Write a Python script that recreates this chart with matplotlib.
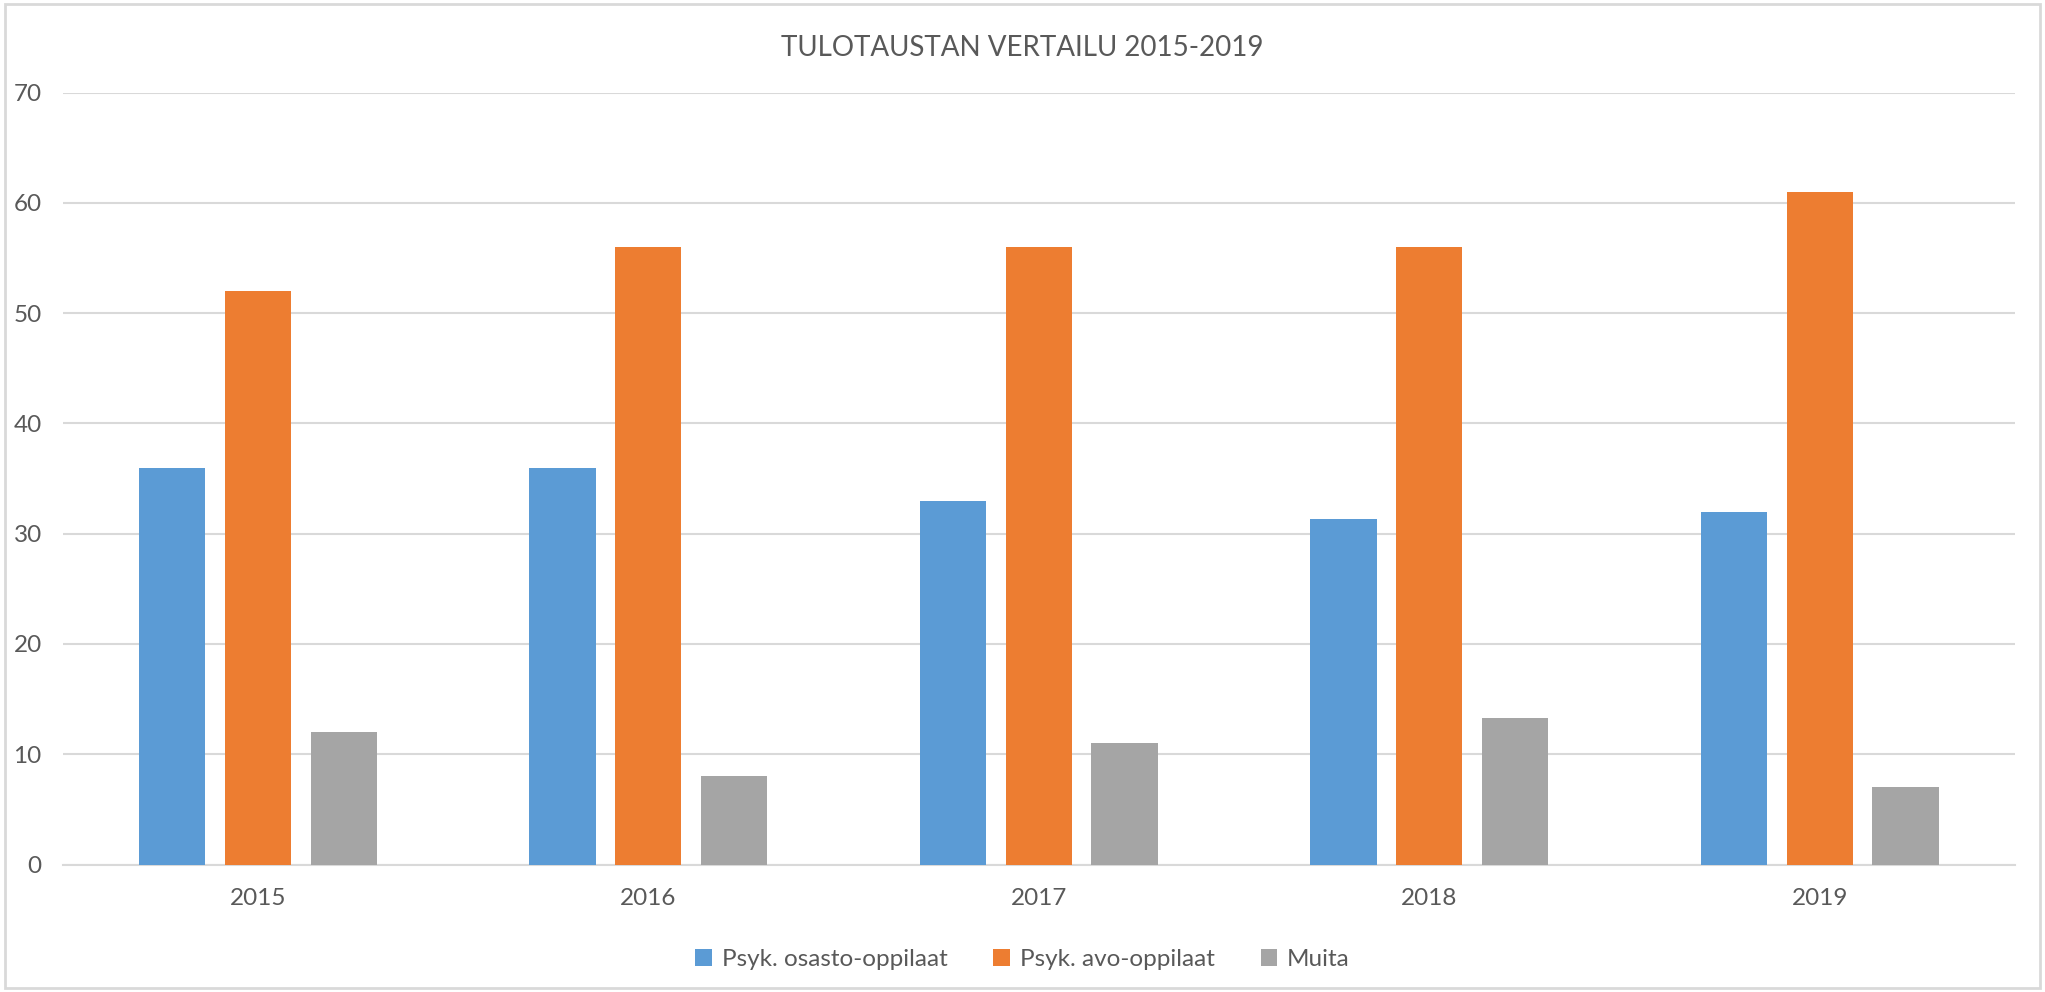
import matplotlib.pyplot as plt
import numpy as np
from matplotlib.patches import Patch, Rectangle

plt.rcParams['font.family'] = ['Lato', 'DejaVu Sans']

vuodet = ['2015', '2016', '2017', '2018', '2019']
sarjat = ['Psyk. osasto-oppilaat', 'Psyk. avo-oppilaat', 'Muita']
osasto = [36, 36, 33, 31.3, 32]
avo = [52, 56, 56, 56, 61]
muita = [12, 8, 11, 13.3, 7]
varit = ['#5B9BD5', '#ED7D31', '#A5A5A5']

teksti = '#595959'
ruudukko = '#D9D9D9'

fig = plt.figure(figsize=(20.45, 9.92), dpi=100)
ax = fig.add_axes([0.0306, 0.1285, 0.9547, 0.7782])

x = np.arange(len(vuodet))
leveys = 0.17
vali = 0.22
for i, (arvot, vari) in enumerate(zip([osasto, avo, muita], varit)):
    ax.bar(x + (i - 1) * vali, arvot, leveys, color=vari, zorder=3)

ax.set_xlim(-0.5, len(vuodet) - 0.5)
ax.set_ylim(0, 70)
ax.set_yticks(range(0, 71, 10))
ax.set_xticks(x)
ax.set_xticklabels(vuodet)
ax.yaxis.grid(True, color=ruudukko, linewidth=1.5, zorder=0)
for s in ['top', 'right', 'left']:
    ax.spines[s].set_visible(False)
ax.spines['bottom'].set_color(ruudukko)
ax.spines['bottom'].set_linewidth(1.5)
ax.tick_params(axis='both', length=0, labelsize=17.5, labelcolor=teksti)
ax.tick_params(axis='x', pad=17)
ax.tick_params(axis='y', pad=15)

fig.text(0.5, 0.952, 'TULOTAUSTAN VERTAILU 2015-2019', ha='center', va='center',
         fontsize=20, color=teksti)

kahvat = [Patch(facecolor=v, edgecolor='none') for v in varit]
fig.legend(kahvat, sarjat, loc='center', bbox_to_anchor=(0.5, 0.033), ncol=3,
           frameon=False, fontsize=17.5, labelcolor=teksti, handlelength=0.68,
           handleheight=0.68, handletextpad=0.4, columnspacing=1.9)

fig.patches.append(Rectangle((0.0025, 0.004), 0.995, 0.992, transform=fig.transFigure,
                             fill=False, edgecolor=ruudukko, linewidth=2))

fig.savefig('out.png', dpi=100, facecolor='white')
